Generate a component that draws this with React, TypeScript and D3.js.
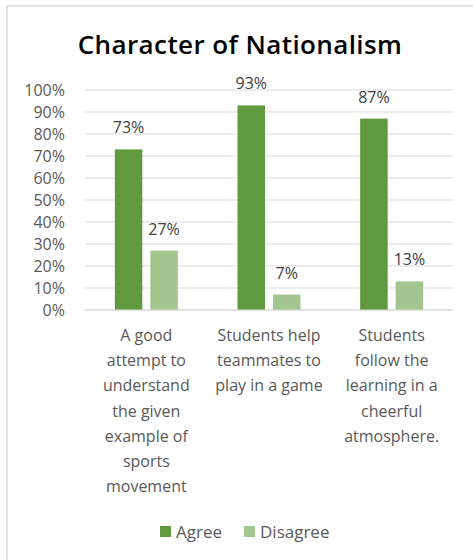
import React from "react";
import * as d3 from "d3";

const categories: string[][] = [
  ["A good", "attempt to", "understand", "the given", "example of", "sports", "movement"],
  ["Students help", "teammates to", "play in a game"],
  ["Students", "follow the", "learning in a", "cheerful", "atmosphere."],
];
const seriesNames = ["Agree", "Disagree"];
const agree = [73, 93, 87];
const disagree = [27, 7, 13];
const yTicks = [0, 10, 20, 30, 40, 50, 60, 70, 80, 90, 100];
const colors = ["#609a3e", "#a3c590"];
const title = "Character of Nationalism";

const W = 473;
const H = 560;
const FONT = "'Open Sans', 'DejaVu Sans', sans-serif";

export default function App() {
  const left = 85, right = 453, top = 90, bottom = 310;
  const x = d3.scaleBand<number>().domain([0, 1, 2]).range([left, right]).padding(0);
  const y = d3.scaleLinear().domain([0, 100]).range([bottom, top]);
  const groupW = 63;
  const inner = d3.scaleBand<string>().domain(seriesNames).range([-groupW / 2, groupW / 2]).paddingInner(0.225);
  const values = [agree, disagree];

  return (
    <svg width={W} height={H} style={{ position: "absolute", left: 0, top: 0, background: "#fff" }} fontFamily={FONT}>
      <rect x={7} y={6} width={W + 10} height={H + 10} fill="#fff" stroke="#d9d9d9" strokeWidth={1.5} />
      <text x={240} y={54} textAnchor="middle" fontSize={26} fill="#000" fontWeight={600} letterSpacing={0.4}>{title}</text>
      {yTicks.map((t) => (
        <g key={t}>
          <line x1={left} x2={right} y1={y(t)} y2={y(t)} stroke="#d9d9d9" strokeWidth={1.2} />
          <text x={65} y={y(t)} dy="0.35em" textAnchor="end" fontSize={16} fill="#595959">{t}%</text>
        </g>
      ))}
      {categories.map((lines, i) => {
        const cx = (x(i) as number) + x.bandwidth() / 2;
        return (
          <g key={i}>
            {seriesNames.map((s, j) => {
              const v = values[j][i];
              const bx = cx + (inner(s) as number);
              return (
                <g key={s}>
                  <rect x={bx} y={y(v)} width={inner.bandwidth()} height={y(0) - y(v)} fill={colors[j]} />
                  <text x={bx + inner.bandwidth() / 2} y={y(v) - 16} textAnchor="middle" fontSize={16} fill="#404040">{v}%</text>
                </g>
              );
            })}
            {lines.map((l, k) => (
              <text key={k} x={cx} y={335 + k * 25.3} dy="0.35em" textAnchor="middle" fontSize={16} fill="#595959">{l}</text>
            ))}
          </g>
        );
      })}
      <line x1={left} x2={right} y1={bottom} y2={bottom} stroke="#d9d9d9" strokeWidth={1.2} />
      <g>
        <rect x={160} y={526} width={11} height={11} fill={colors[0]} />
        <text x={176} y={532} dy="0.35em" fontSize={17} fill="#595959">{seriesNames[0]}</text>
        <rect x={244} y={526} width={11} height={11} fill={colors[1]} />
        <text x={260} y={532} dy="0.35em" fontSize={17} fill="#595959">{seriesNames[1]}</text>
      </g>
    </svg>
  );
}
